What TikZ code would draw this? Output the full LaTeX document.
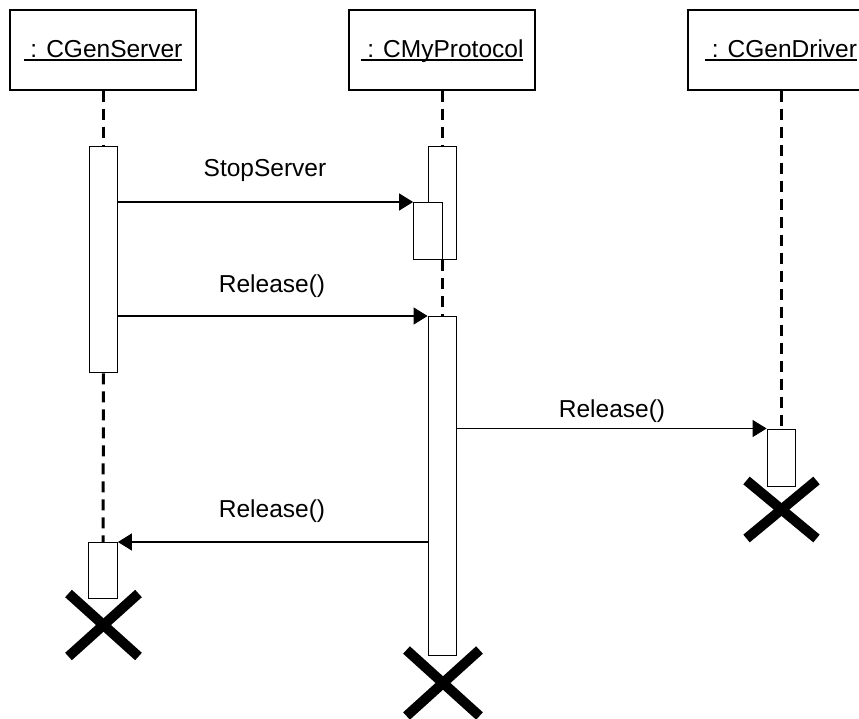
\documentclass[tikz,border=0pt]{standalone}
\usepackage{fontspec}
\setmainfont{Liberation Sans}
\usetikzlibrary{arrows.meta}

% underlined object name with the rule at a fixed depth below the baseline
\newcommand\objname[1]{\setbox0\hbox{#1}\rlap{\rule[-2.6pt]{\wd0}{1.3pt}}\box0}

\begin{document}
\begin{tikzpicture}[x=1pt,y=-1pt,
  every node/.style={font=\fontsize{24.5}{29}\selectfont},
  obj/.style={draw,line width=1.4pt,minimum width=186pt,minimum height=80pt,inner sep=0pt},
  act/.style={draw,fill=white,line width=1.3pt,minimum width=28.5pt,inner sep=0pt,anchor=north},
  life/.style={line width=3pt,dash pattern=on 11pt off 7pt},
  msg/.style={line width=1.3pt,-{Triangle[length=14pt,width=17pt]}},
  lbl/.style={anchor=base,inner sep=0pt},
  kill/.style={line width=10pt,line cap=butt}
]
\useasboundingbox (0,0) rectangle (859,719);

% objects
\node[obj] (srv) at (103,50) {};
\node[lbl] at (103,58) {\objname{\ : CGenServer}};
\node[obj] (prt) at (442,50) {};
\node[lbl] at (442,58) {\objname{\ : CMyProtocol}};
\begin{scope}
  \clip (0,0) rectangle (859,719);
  \node[obj] (drv) at (781,50) {};
  \node[lbl] at (781,58) {\objname{\ : CGenDriver}};
\end{scope}

% activations
\node[act,minimum height=226pt] (s1) at (103.5,146) {};
\node[act,minimum height=56pt] (s2) at (103,542) {};
\node[act,minimum height=113pt] (p1) at (442.5,146) {};
\node[act,minimum height=57pt] (p2) at (428,202) {};
\node[act,minimum height=339pt] (p3) at (442.5,316) {};
\node[act,minimum height=57pt] (d1) at (781.5,428.5) {};

% lifelines
\draw[life] (s1.north |- srv.south) -- (s1.north);
\draw[life] (s1.south) -- (s2.north);
\draw[life] (p1.north |- prt.south) -- (p1.north);
\draw[life] (p1.south) -- (p3.north);
\draw[life] (d1.north |- drv.south) -- (d1.north);

% redraw the nested activation over the outer one
\node[act,minimum height=57pt] at (428,202) {};

% messages
\draw[msg] (s1.east |- p2.north) -- (p2.north west);
\node[lbl] at (265,177) {StopServer};
\draw[msg] (s1.east |- p3.north) -- (p3.north west);
\node[lbl] at (272,292) {Release()};
\draw[msg] (p3.east |- d1.north) -- (d1.north west);
\node[lbl] at (612,417) {Release()};
\draw[msg] (p3.west |- s2.north) -- (s2.north east);
\node[lbl] at (272,517) {Release()};

% destruction marks
\foreach \cx/\cy/\dx/\dy in {103.5/625/35/31.5, 443/683/36.5/33, 781.5/509.5/35/29}{
  \draw[kill] (\cx-\dx,\cy-\dy) -- (\cx+\dx,\cy+\dy);
  \draw[kill] (\cx-\dx,\cy+\dy) -- (\cx+\dx,\cy-\dy);
}
\end{tikzpicture}
\end{document}
